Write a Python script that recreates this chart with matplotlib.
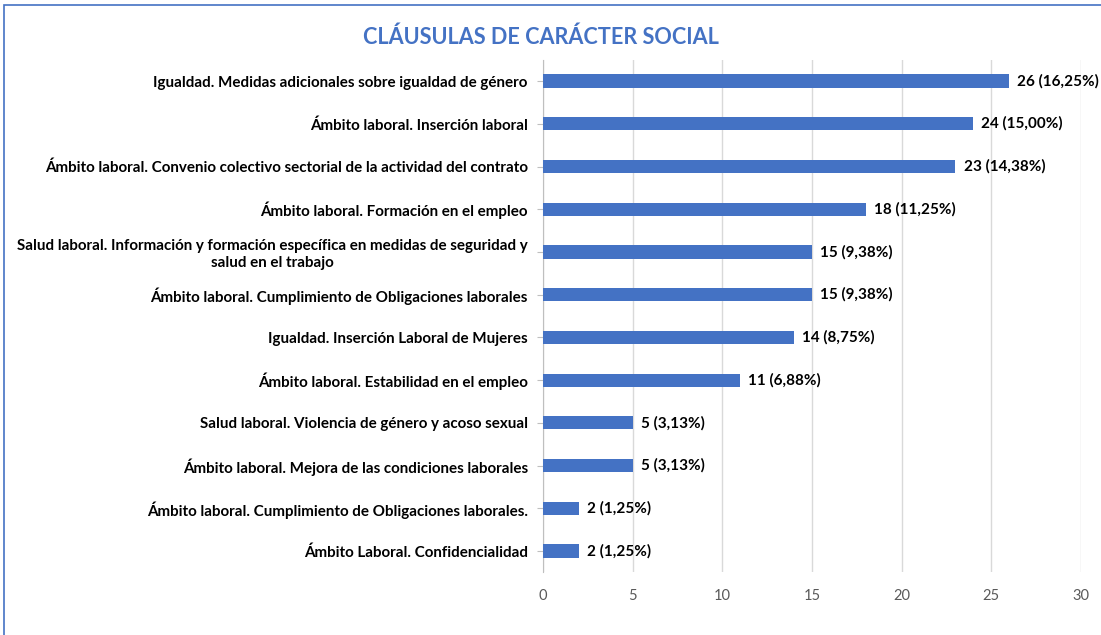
import matplotlib
matplotlib.use("Agg")
import matplotlib.pyplot as plt
from matplotlib.patches import Rectangle

categories = [
    "Igualdad. Medidas adicionales sobre igualdad de género",
    "Ámbito laboral. Inserción laboral",
    "Ámbito laboral. Convenio colectivo sectorial de la actividad del contrato",
    "Ámbito laboral. Formación en el empleo",
    "Salud laboral. Información y formación específica en medidas de seguridad y\nsalud en el trabajo",
    "Ámbito laboral. Cumplimiento de Obligaciones laborales",
    "Igualdad. Inserción Laboral de Mujeres",
    "Ámbito laboral. Estabilidad en el empleo",
    "Salud laboral. Violencia de género y acoso sexual",
    "Ámbito laboral. Mejora de las condiciones laborales",
    "Ámbito laboral. Cumplimiento de Obligaciones laborales.",
    "Ámbito Laboral. Confidencialidad",
]
values = [26, 24, 23, 18, 15, 15, 14, 11, 5, 5, 2, 2]
labels = ["26 (16,25%)", "24 (15,00%)", "23 (14,38%)", "18 (11,25%)", "15 (9,38%)",
          "15 (9,38%)", "14 (8,75%)", "11 (6,88%)", "5 (3,13%)", "5 (3,13%)",
          "2 (1,25%)", "2 (1,25%)"]
xticks = [0, 5, 10, 15, 20, 25, 30]

plt.rcParams['font.family'] = ['Lato', 'DejaVu Sans']

fig = plt.figure(figsize=(11.01, 6.35), dpi=100)
ax = fig.add_axes([0.4932, 0.0986, 0.4886, 0.8074])

ypos = list(range(len(categories)))
ax.barh(ypos, values, height=0.31, color="#4472C4", zorder=3)
ax.set_ylim(len(categories) - 0.5, -0.5)
ax.set_xlim(0, 30)
ax.set_xticks(xticks)
ax.set_xticklabels([str(t) for t in xticks], color="#595959", fontsize=10.5)
ax.tick_params(axis='x', length=0, pad=12)
ax.set_yticks(ypos)
ax.set_yticklabels(categories, fontsize=10.9, fontweight='bold', color="black",
                   multialignment='center', linespacing=1.25)
ax.tick_params(axis='y', length=4, color="#BFBFBF", pad=7)
ax.grid(axis='x', color="#D9D9D9", linewidth=1, zorder=0)
for s in ['top', 'right', 'bottom']:
    ax.spines[s].set_visible(False)
ax.spines['left'].set_color("#BFBFBF")

for y, v, lab in zip(ypos, values, labels):
    ax.text(v + 0.45, y, lab, va='center', ha='left', fontsize=11, fontweight='bold', color="black")

fig.text(0.491, 0.942, "CLÁUSULAS DE CARÁCTER SOCIAL", ha='center', va='center',
         fontsize=15.6, fontweight='bold', color="#4472C4")

fig.patches.append(Rectangle((4 / 1101, -0.1), 1.2, 1.1 - 5 / 635, transform=fig.transFigure,
                             fill=False, edgecolor="#4472C4", linewidth=1.2))

fig.savefig("out.png", dpi=100)
